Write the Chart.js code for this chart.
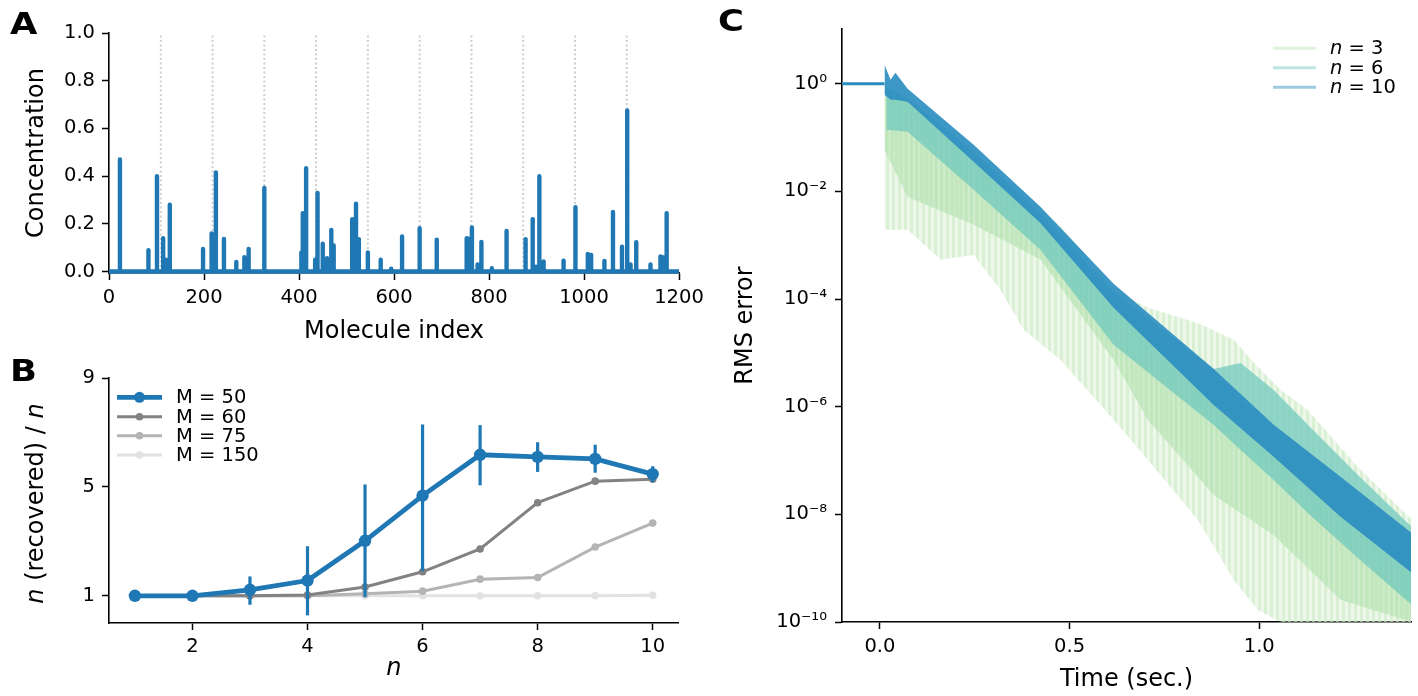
<!DOCTYPE html>
<html><head><meta charset="utf-8">
<script src="https://cdn.jsdelivr.net/npm/chart.js@4.4.1/dist/chart.umd.min.js"></script>
<style>
html,body{margin:0;padding:0;background:#fff;}
#wrap{position:relative;width:1418px;height:696px;overflow:hidden;background:#fff;}
.box{position:absolute;}
.pl{position:absolute;font-family:"DejaVu Sans",sans-serif;font-weight:bold;font-size:30px;line-height:1;color:#000;transform:scaleX(1.18);transform-origin:0 0;}
</style></head><body>
<div id="wrap">
  <div class="box" style="left:0;top:0;width:740px;height:346px"><canvas id="cA"></canvas></div>
  <div class="box" style="left:0;top:350px;width:740px;height:346px"><canvas id="cB"></canvas></div>
  <div class="box" style="left:700px;top:0;width:718px;height:696px"><canvas id="cC"></canvas></div>
  <div class="pl" style="left:10px;top:9px">A</div>
  <div class="pl" style="left:10px;top:356px">B</div>
  <div class="pl" style="left:718px;top:6px">C</div>
</div>
<script>
const FONT = 'DejaVu Sans';

// ---------- Panel A data ----------
const spikeX = [23,83,101,114,120,128,198,216,225,242,268,285,294,327,405,408,415,434,439,450,459,468,473,512,520,526,545,572,594,617,654,690,753,757,764,776,784,806,837,877,892,899,906,915,957,982,1008,1015,1043,1061,1080,1091,1098,1110,1140,1161,1166,1174];
const spikeH = [0.47,0.09,0.40,0.14,0.05,0.28,0.095,0.16,0.415,0.137,0.04,0.06,0.095,0.35,0.08,0.245,0.433,0.05,0.33,0.117,0.056,0.174,0.11,0.22,0.285,0.136,0.08,0.05,0.012,0.147,0.182,0.134,0.14,0.138,0.185,0.03,0.124,0.014,0.17,0.136,0.22,0.02,0.40,0.042,0.046,0.27,0.074,0.07,0.045,0.25,0.104,0.675,0.03,0.123,0.03,0.063,0.06,0.245];
const markerIdx = [109,218,327,436,545,654,763,872,981,1090];
const aXTicks = [0,200,400,600,800,1000,1200];
const aYTicks = [0,0.2,0.4,0.6,0.8,1.0];

// ---------- Panel B data ----------
const nVals  = [1,2,3,4,5,6,7,8,9,10];
const m50    = [1.0,1.0,1.22,1.56,3.02,4.68,6.18,6.10,6.03,5.47];
const m50Lo  = [1.0,1.0,0.67,0.28,0.95,1.90,5.06,5.55,5.52,5.18];
const m50Hi  = [1.0,1.0,1.71,2.82,5.09,7.29,7.27,6.64,6.55,5.76];
const m60    = [1.0,1.0,1.0,1.03,1.32,1.88,2.72,4.42,5.21,5.28];
const m75    = [1.0,1.0,1.0,1.0,1.07,1.17,1.61,1.67,2.79,3.67];
const m150   = [1.0,1.0,1.0,1.0,1.0,1.0,1.0,1.0,1.0,1.02];
const bLabels = ['M = 50','M = 60','M = 75','M = 150'];
const bXTicks = [2,4,6,8,10];
const bYTicks = [1,5,9];

// ---------- Panel C data (envelopes) ----------
const flatT = [-0.1, 0.012];
const flatV = [1, 1];
const n10T  = [0.012,0.028,0.041,0.073,0.247,0.423,0.616,0.880,1.038,1.215,1.402];
const n10Hi = [2.25,1.19,1.6,0.81,0.0735,5.2e-3,1.92e-4,5.0e-6,4.6e-7,4.95e-8,4.5e-9];
const n10Lo = [0.625,0.505,0.505,0.462,0.0355,2.6e-3,6.9e-5,1.08e-6,1.17e-7,8.95e-9,8.15e-10];
const n6T   = [0.017,0.073,0.247,0.423,0.616,0.880,0.951,1.038,1.128,1.26,1.402];
const n6Hi  = [0.843,0.55,0.0545,3.84e-3,1.36e-4,5.0e-6,6.5e-6,2.05e-6,4.6e-7,5.4e-8,5.8e-9];
const n6Lo  = [0.14,0.128,0.0107,8.2e-4,1.41e-5,4.59e-7,1.57e-7,4.36e-8,1.06e-8,1.55e-9,2.07e-10];
const n3T   = [0.012,0.073,0.247,0.423,0.616,0.706,0.880,1.038,1.215,1.402];
const n3Hi  = [0.625,0.505,0.0387,2.72e-3,9.7e-5,2.7e-5,3.15e-6,3.7e-7,4.35e-8,3.35e-9];
const n3Lo  = [0.0593,7.9e-3,2.4e-3,5.4e-4,7.4e-6,5.7e-7,2.3e-8,4.1e-9,2.56e-10,1e-10];
const n3oT  = [0.012,0.073,0.16,0.247,0.318,0.379,0.476,0.616,0.706,0.838,0.933,0.996,1.057,1.128,1.26,1.402];
const n3oHi = [0.918,0.55,0.173,0.0545,0.0179,7.9e-3,2.3e-3,1.48e-4,6.9e-5,3.6e-5,1.75e-5,5.5e-6,2.05e-6,8.7e-7,7.6e-8,7.9e-9];
const n3oLo = [1.93e-3,1.93e-3,5.4e-4,6.6e-4,1.48e-4,2.68e-5,7.4e-6,5.7e-7,1.03e-7,7.9e-9,6.0e-10,1.67e-10,1e-10,1e-10,1e-10,1e-10];
const cLegend = ['3','6','10'];
const cXTicks = [0,0.5,1.0];
const cYTicks = [1,1e-2,1e-4,1e-6,1e-8,1e-10];

// ---------- helpers ----------
const SUP = {'-':'\u207B','0':'\u2070','1':'\u00B9','2':'\u00B2','3':'\u00B3','4':'\u2074','5':'\u2075','6':'\u2076','7':'\u2077','8':'\u2078','9':'\u2079'};
const sup = s => String(s).split('').map(c => SUP[c]).join('');
const pts = (xs, ys) => xs.map((x,i) => ({x, y: ys[i]}));
const setTicks = arr => (s) => { s.ticks = arr.map(v => ({value: v})); };
function mkAxis(o) {
  return Object.assign({
    grid: {display:true, drawOnChartArea:false, drawTicks:true, tickLength:7, tickColor:'#000', tickWidth:1.5},
    border: {display:true, color:'#000', width:1.6},
  }, o, {
    ticks: Object.assign({color:'#000', font:{family:FONT, size:19.5}, padding:5, maxRotation:0, autoSkip:false}, o.ticks || {})
  });
}
const baseOpts = () => ({animation:false, responsive:true, maintainAspectRatio:false, events:[],
  plugins:{legend:{display:false}, tooltip:{enabled:false}}});
function stripes(c1, c2, w1, w2) {
  const cv = document.createElement('canvas'); cv.width = w1 + w2; cv.height = 4;
  const g = cv.getContext('2d');
  g.fillStyle = c1; g.fillRect(0, 0, w1, 4);
  g.fillStyle = c2; g.fillRect(w1, 0, w2, 4);
  return g.createPattern(cv, 'repeat');
}

// ---------- Chart A ----------
const spikePts = [{x:0,y:0}];
spikeX.forEach((x,i) => { spikePts.push({x, y:0}, {x, y:spikeH[i]}, {x, y:0}); });
spikePts.push({x:1200, y:0});
const dotPts = [];
markerIdx.forEach(x => { dotPts.push({x, y:0}, {x, y:1.0}, {x, y:null}); });

const optA = baseOpts();
optA.layout = {padding:{left:0, right:61, top:33, bottom:0}};
optA.scales = {
  x: mkAxis({type:'linear', min:0, max:1200, afterBuildTicks:setTicks(aXTicks), afterFit:s=>{s.height=73;},
      ticks:{padding:6, callback:v=>String(v)}, title:{display:true, text:'Molecule index', color:'#000', font:{family:FONT,size:24}, padding:{top:0,bottom:0}}}),
  y: mkAxis({type:'linear', min:-0.006, max:1.0, afterBuildTicks:setTicks(aYTicks), afterFit:s=>{s.width=109;},
      ticks:{padding:7, callback:v=>v.toFixed(1)}, title:{display:true, text:'Concentration', color:'#000', font:{family:FONT,size:24}, padding:{top:22,bottom:0}}})
};
new Chart(document.getElementById('cA'), {
  type:'line',
  data:{datasets:[
    {data:spikePts, borderColor:'#1f77b4', borderWidth:4.4, pointRadius:0, borderJoinStyle:'round', tension:0, clip:false},
    {data:dotPts, borderColor:'#cfcfcf', borderWidth:2, borderDash:[2,2.5], pointRadius:0, spanGaps:false}
  ]},
  options:optA
});

// ---------- Chart B ----------
const bColors = ['#1f77b4','#828282','#b4b4b4','#e2e2e2'];
const bSeries = [m50, m60, m75, m150];
const bDatasets = bSeries.map((s,i) => ({
  data: pts(nVals, s), borderColor: bColors[i], backgroundColor: bColors[i],
  borderWidth: i===0 ? 4.8 : 3, pointRadius: i===0 ? 6.2 : 3.8, pointBorderWidth:0,
  pointBackgroundColor: bColors[i], tension:0, clip:false
}));
const errPlugin = {
  id:'err',
  afterDatasetsDraw(chart){
    const {ctx, scales:{x,y}} = chart;
    ctx.save(); ctx.strokeStyle = bColors[0]; ctx.lineWidth = 3.2;
    nVals.forEach((n,i) => {
      if (m50Hi[i]-m50Lo[i] < 0.01) return;
      const px = x.getPixelForValue(n);
      ctx.beginPath(); ctx.moveTo(px, y.getPixelForValue(m50Lo[i])); ctx.lineTo(px, y.getPixelForValue(m50Hi[i])); ctx.stroke();
    });
    ctx.restore();
  }
};
const bLegendPlugin = {
  id:'bleg',
  afterDraw(chart){
    const ctx = chart.ctx; ctx.save();
    const rows = [47.3, 66.7, 85.8, 105];
    bLabels.forEach((lab,i) => {
      const y = rows[i];
      ctx.strokeStyle = bColors[i]; ctx.lineWidth = i===0 ? 4.8 : 3;
      ctx.beginPath(); ctx.moveTo(117, y); ctx.lineTo(162, y); ctx.stroke();
      ctx.fillStyle = bColors[i]; ctx.beginPath(); ctx.arc(139.5, y, i===0 ? 5.5 : 3.8, 0, Math.PI*2); ctx.fill();
      ctx.fillStyle = '#000'; ctx.font = '19.5px "' + FONT + '"'; ctx.textBaseline = 'middle'; ctx.textAlign = 'left';
      ctx.fillText(lab, 176, y + 1);
    });
    const a = chart.chartArea; ctx.translate(37, (a.top + a.bottom)/2 + 3); ctx.rotate(-Math.PI/2);
    const parts = [['n', true], [' (recovered) / ', false], ['n', true]];
    let tot = 0;
    parts.forEach(p => { ctx.font = (p[1] ? 'italic ' : '') + '24px "' + FONT + '"'; p.w = ctx.measureText(p[0]).width; tot += p.w; });
    let cx = -tot/2; ctx.textBaseline = 'middle';
    parts.forEach(p => { ctx.font = (p[1] ? 'italic ' : '') + '24px "' + FONT + '"'; ctx.fillText(p[0], cx, 0); cx += p.w; });
    ctx.restore();
  }
};
const optB = baseOpts();
optB.layout = {padding:{left:0, right:61.4, top:28, bottom:0}};
optB.scales = {
  x: mkAxis({type:'linear', min:0.55, max:10.45, afterBuildTicks:setTicks(bXTicks), afterFit:s=>{s.height=73;},
      ticks:{padding:5}, title:{display:true, text:'n', color:'#000', font:{family:FONT,size:24,style:'italic'}, padding:{top:0,bottom:13}}}),
  y: mkAxis({type:'linear', min:0, max:9, afterBuildTicks:setTicks(bYTicks), afterFit:s=>{s.width=109;},
      ticks:{padding:7}})
};
new Chart(document.getElementById('cB'), {
  type:'line', data:{datasets:bDatasets}, options:optB, plugins:[errPlugin, bLegendPlugin]
});

// ---------- Chart C ----------
const NONE = 'rgba(0,0,0,0)';
const band = (xs, ys, col, fillTo) => ({data:pts(xs, ys), borderColor:NONE, borderWidth:0.01, pointRadius:0, tension:0,
  backgroundColor:col, fill: fillTo === undefined ? false : {target: fillTo}});
const greenOuter = stripes('rgba(204,235,197,0.75)', 'rgba(204,235,197,0.35)', 3, 3);
const greenInner = stripes('rgba(188,229,184,0.85)', 'rgba(188,229,184,0.6)', 3, 2);
const cDatasets = [
  {data:pts(flatT, flatV), borderColor:'#2b8cbe', borderWidth:3, pointRadius:0, tension:0},
  band(n10T, n10Hi, 'rgba(46,143,193,0.92)', 2),
  band(n10T, n10Lo, NONE),
  band(n6T, n6Hi, 'rgba(110,200,188,0.72)', 4),
  band(n6T, n6Lo, NONE),
  band(n3T, n3Hi, greenInner, 6),
  band(n3T, n3Lo, NONE),
  band(n3oT, n3oHi, greenOuter, 8),
  band(n3oT, n3oLo, NONE)
];
const cLegendPlugin = {
  id:'cleg',
  afterDraw(chart){
    const ctx = chart.ctx; ctx.save();
    const rows = [48.3, 67.7, 87.3];
    const cols = ['rgba(204,235,197,0.6)','rgba(123,204,196,0.5)','rgba(43,140,190,0.45)'];
    cLegend.forEach((lab,i) => {
      const y = rows[i];
      ctx.strokeStyle = cols[i]; ctx.lineWidth = 3;
      ctx.beginPath(); ctx.moveTo(573, y); ctx.lineTo(616, y); ctx.stroke();
      ctx.fillStyle = '#000'; ctx.textBaseline = 'middle'; ctx.textAlign = 'left';
      ctx.font = 'italic 19.5px "' + FONT + '"'; ctx.fillText('n', 630, y + 1);
      const w = ctx.measureText('n').width;
      ctx.font = '19.5px "' + FONT + '"'; ctx.fillText(' = ' + lab, 630 + w, y + 1);
    });
    ctx.restore();
  }
};
const optC = baseOpts();
optC.layout = {padding:{left:0, right:7, top:29, bottom:0}};
optC.scales = {
  x: mkAxis({type:'linear', min:-0.1, max:1.4, afterBuildTicks:setTicks(cXTicks), afterFit:s=>{s.height=74;},
      ticks:{padding:6, callback:v=>v.toFixed(1)}, title:{display:true, text:'Time (sec.)', color:'#000', font:{family:FONT,size:24}, padding:{top:0,bottom:2}}}),
  y: mkAxis({type:'logarithmic', min:1e-10, max:10.4, afterBuildTicks:setTicks(cYTicks), afterFit:s=>{s.width=142;},
      ticks:{padding:8, callback:v=>'10' + sup(Math.round(Math.log10(v)))}, title:{display:true, text:'RMS error', color:'#000', font:{family:FONT,size:24}, padding:{top:31,bottom:0}}})
};
new Chart(document.getElementById('cC'), {
  type:'line', data:{datasets:cDatasets}, options:optC, plugins:[cLegendPlugin]
});
</script>
</body></html>
